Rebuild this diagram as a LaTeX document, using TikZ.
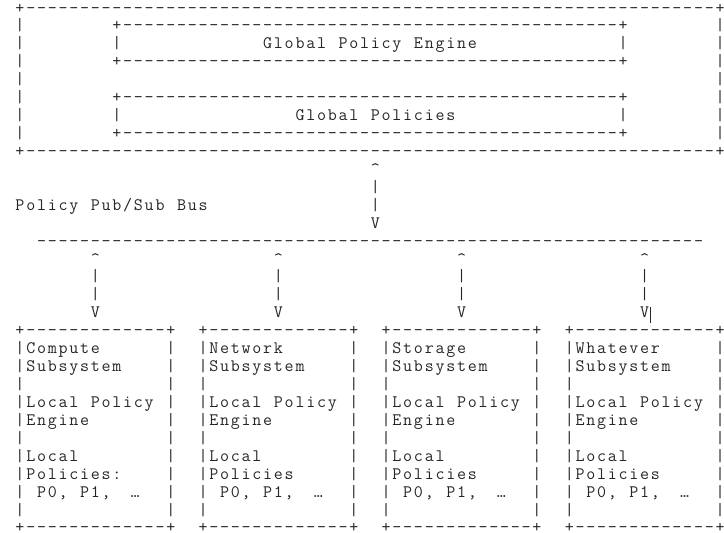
\documentclass[tikz,border=0pt]{standalone}
\usepackage{fontspec}
\newcounter{tn}
\newcommand\asciifont{\ttfamily\fontsize{17.5pt}{18pt}\selectfont}
\tikzset{ch/.style={inner sep=0pt, outer sep=0pt, anchor=base, font=\asciifont, text=black!85}}
\newcommand\cx[1]{20+10.77*(#1)}
\newcommand\ry[1]{13+17.93*(#1)}
\makeatletter
% place a string one character per cell, starting at column #1 of row #2 (~ = blank cell)
\newcommand\PS[3]{%
  \pgfmathsetmacro\colc{#1}%
  \@tfor\ch:=#3\do{%
    \stepcounter{tn}%
    \node[ch] (t\arabic{tn}) at ({\cx{\colc}},{\ry{#2}}) {\ch};%
    \pgfmathsetmacro\colc{\colc+1}}}
\makeatother
% a run of #3 hyphens starting at column #1 of row #2
\newcommand\PD[3]{%
  \foreach \k in {1,...,#3}{\stepcounter{tn}%
    \node[ch] (t\arabic{tn}) at ({\cx{#1+\k-1}},{\ry{#2}}) {-};}}
\begin{document}
\begin{tikzpicture}[x=1pt,y=-1pt]
\useasboundingbox (0,0) rectangle (724,533);
% global box
\foreach \r in {0,8}{\PS{0}{\r}{+}\PD{1}{\r}{64}\PS{65}{\r}{+}}
\foreach \r in {1,3,5,7}{\PS{0}{\r}{|}\PS{9}{\r}{+}\PD{10}{\r}{46}\PS{56}{\r}{+}\PS{65}{\r}{|}}
\foreach \r in {2,6}{\PS{0}{\r}{|}\PS{9}{\r}{|}\PS{56}{\r}{|}\PS{65}{\r}{|}}
\PS{0}{4}{|}\PS{65}{4}{|}
\PS{23}{2}{Global~Policy~Engine}
\PS{26}{6}{Global~Policies}
% bus link
\PS{33}{9}{\textasciicircum}
\PS{33}{10}{|}
\PS{33}{11}{|}
\PS{33}{12}{V}
\PS{0}{11}{Policy~Pub/Sub~Bus}
\PD{2}{13}{62}
% subsystem links
\foreach \c in {7,24,41,58}{\PS{\c}{14}{\textasciicircum}\PS{\c}{15}{|}\PS{\c}{16}{|}\PS{\c}{17}{V}}
\coordinate (cur1) at (650.7,306.7);
\coordinate (cur2) at (650.7,323.3);
\draw[line width=1.1pt, black!85] (cur1) -- (cur2);
% subsystem boxes
\foreach \b in {0,17,34,51}{
  \foreach \r in {18,29}{\PS{\b}{\r}{+}\PD{\b+1}{\r}{13}\PS{\b+14}{\r}{+}}
  \foreach \r in {19,...,28}{\PS{\b}{\r}{|}\PS{\b+14}{\r}{|}}
  \PS{\b+1}{20}{Subsystem}
  \PS{\b+1}{22}{Local~Policy}
  \PS{\b+1}{23}{Engine}
  \PS{\b+1}{25}{Local}
  \PS{\b+2}{27}{P0,~P1,}
  \PS{\b+10.7}{27}{…}
}
\PS{1}{19}{Compute}\PS{18}{19}{Network}\PS{35}{19}{Storage}\PS{52}{19}{Whatever}
\PS{1}{26}{Policies:}\PS{18}{26}{Policies}\PS{35}{26}{Policies}\PS{52}{26}{Policies}
\end{tikzpicture}
\end{document}
